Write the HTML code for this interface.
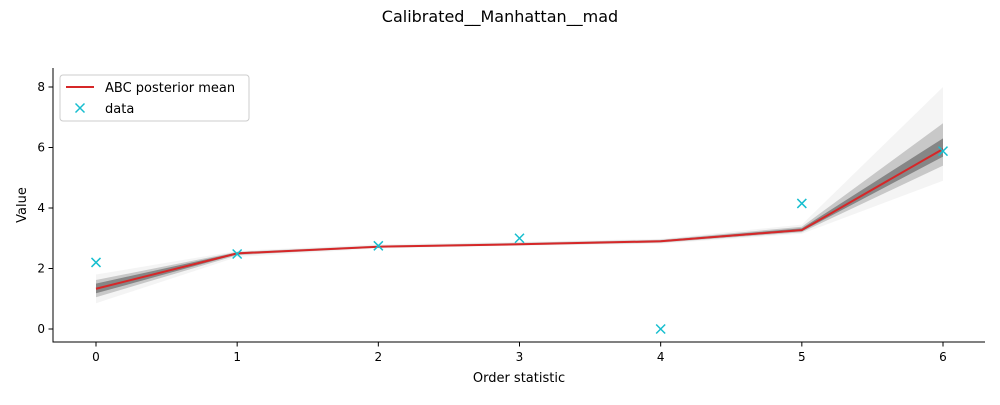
<!DOCTYPE html>
<html><head><meta charset="utf-8"><style>
body{margin:0;background:#fff;font-family:"Liberation Sans","DejaVu Sans",sans-serif}
svg text{font-family:"DejaVu Sans","Liberation Sans",sans-serif}
</style></head><body>
<svg id="c" width="1000" height="400" xmlns="http://www.w3.org/2000/svg"></svg>
<script>
const categories=[0,1,2,3,4,5,6];
const meanValues=[1.33,2.5,2.72,2.8,2.9,3.27,5.95];
const dataValues=[2.2,2.48,2.75,3.0,0.0,4.15,5.88];
const outerLow=[0.85,2.38,2.66,2.75,2.82,3.15,4.9];
const outerHigh=[1.8,2.58,2.8,2.88,2.98,3.45,8.0];
const innerLow=[1.05,2.44,2.69,2.77,2.85,3.2,5.4];
const innerHigh=[1.62,2.55,2.76,2.85,2.95,3.38,6.8];
const coreLow=[1.18,2.47,2.71,2.79,2.88,3.23,5.7];
const coreHigh=[1.5,2.53,2.74,2.82,2.93,3.33,6.3];
const yTicks=[0,2,4,6,8];
const NS='http://www.w3.org/2000/svg';
const svg=document.getElementById('c');
const X=v=>96+v*(943-96)/6;
const Y=v=>329-v*(329-87)/8;
function el(t,a,p){const e=document.createElementNS(NS,t);for(const k in a)e.setAttribute(k,a[k]);(p||svg).appendChild(e);return e;}
const title=el('text',{x:500,y:22,'text-anchor':'middle','font-size':16,fill:'#000'});title.textContent='Calibrated__Manhattan__mad';


function band(lo,hi,op,name){
 let pts=categories.map((c,i)=>X(c)+','+Y(hi[i]));
 pts=pts.concat(categories.map((c,i)=>X(c)+','+Y(lo[i])).reverse());
 const p=el('polygon',{points:pts.join(' '),fill:'#444','fill-opacity':op});
 
 
}
band(outerLow,outerHigh,0.06,'posterior-band-outer');
band(innerLow,innerHigh,0.25,'posterior-band-inner');
band(coreLow,coreHigh,0.5,'posterior-band-core');
const ml=el('polyline',{points:categories.map((c,i)=>X(c)+','+Y(meanValues[i])).join(' '),fill:'none',stroke:'#d62728','stroke-width':2});


categories.forEach((c,i)=>{
 const x=X(c),y=Y(dataValues[i]),s=4.5;
 const g=el('path',{d:`M${x-s},${y-s}L${x+s},${y+s}M${x-s},${y+s}L${x+s},${y-s}`,stroke:'#17becf','stroke-width':1.5});
 
 
});
const ax=el('path',{d:'M53,68V342H985',fill:'none',stroke:'#000','stroke-width':1});


categories.forEach(c=>{
 el('line',{x1:X(c),x2:X(c),y1:342,y2:346.5,stroke:'#000'});
 const t=el('text',{x:X(c),y:361,'text-anchor':'middle','font-size':12});t.textContent=c;
 
 
});
yTicks.forEach(v=>{
 el('line',{x1:48.5,x2:53,y1:Y(v),y2:Y(v),stroke:'#000'});
 const t=el('text',{x:45,y:Y(v)+4,'text-anchor':'end','font-size':12});t.textContent=v;
 
 
});
const xt=el('text',{x:519,y:382,'text-anchor':'middle','font-size':13});xt.textContent='Order statistic';


const yt=el('text',{x:26,y:205,'text-anchor':'middle','font-size':13,transform:'rotate(-90 26 205)'});yt.textContent='Value';


const lg=el('g',{});


el('rect',{x:60,y:75,width:189,height:46,rx:3,fill:'#fff','fill-opacity':0.85,stroke:'#ccc'},lg);
el('line',{x1:66,x2:94,y1:87,y2:87,stroke:'#d62728','stroke-width':2},lg);
let t1=el('text',{x:105,y:92,'font-size':13},lg);t1.textContent='ABC posterior mean';
el('path',{d:'M75.5,103.5L84.5,112.5M75.5,112.5L84.5,103.5',stroke:'#17becf','stroke-width':1.5},lg);
let t2=el('text',{x:105,y:113,'font-size':13},lg);t2.textContent='data';
</script>
</body></html>
